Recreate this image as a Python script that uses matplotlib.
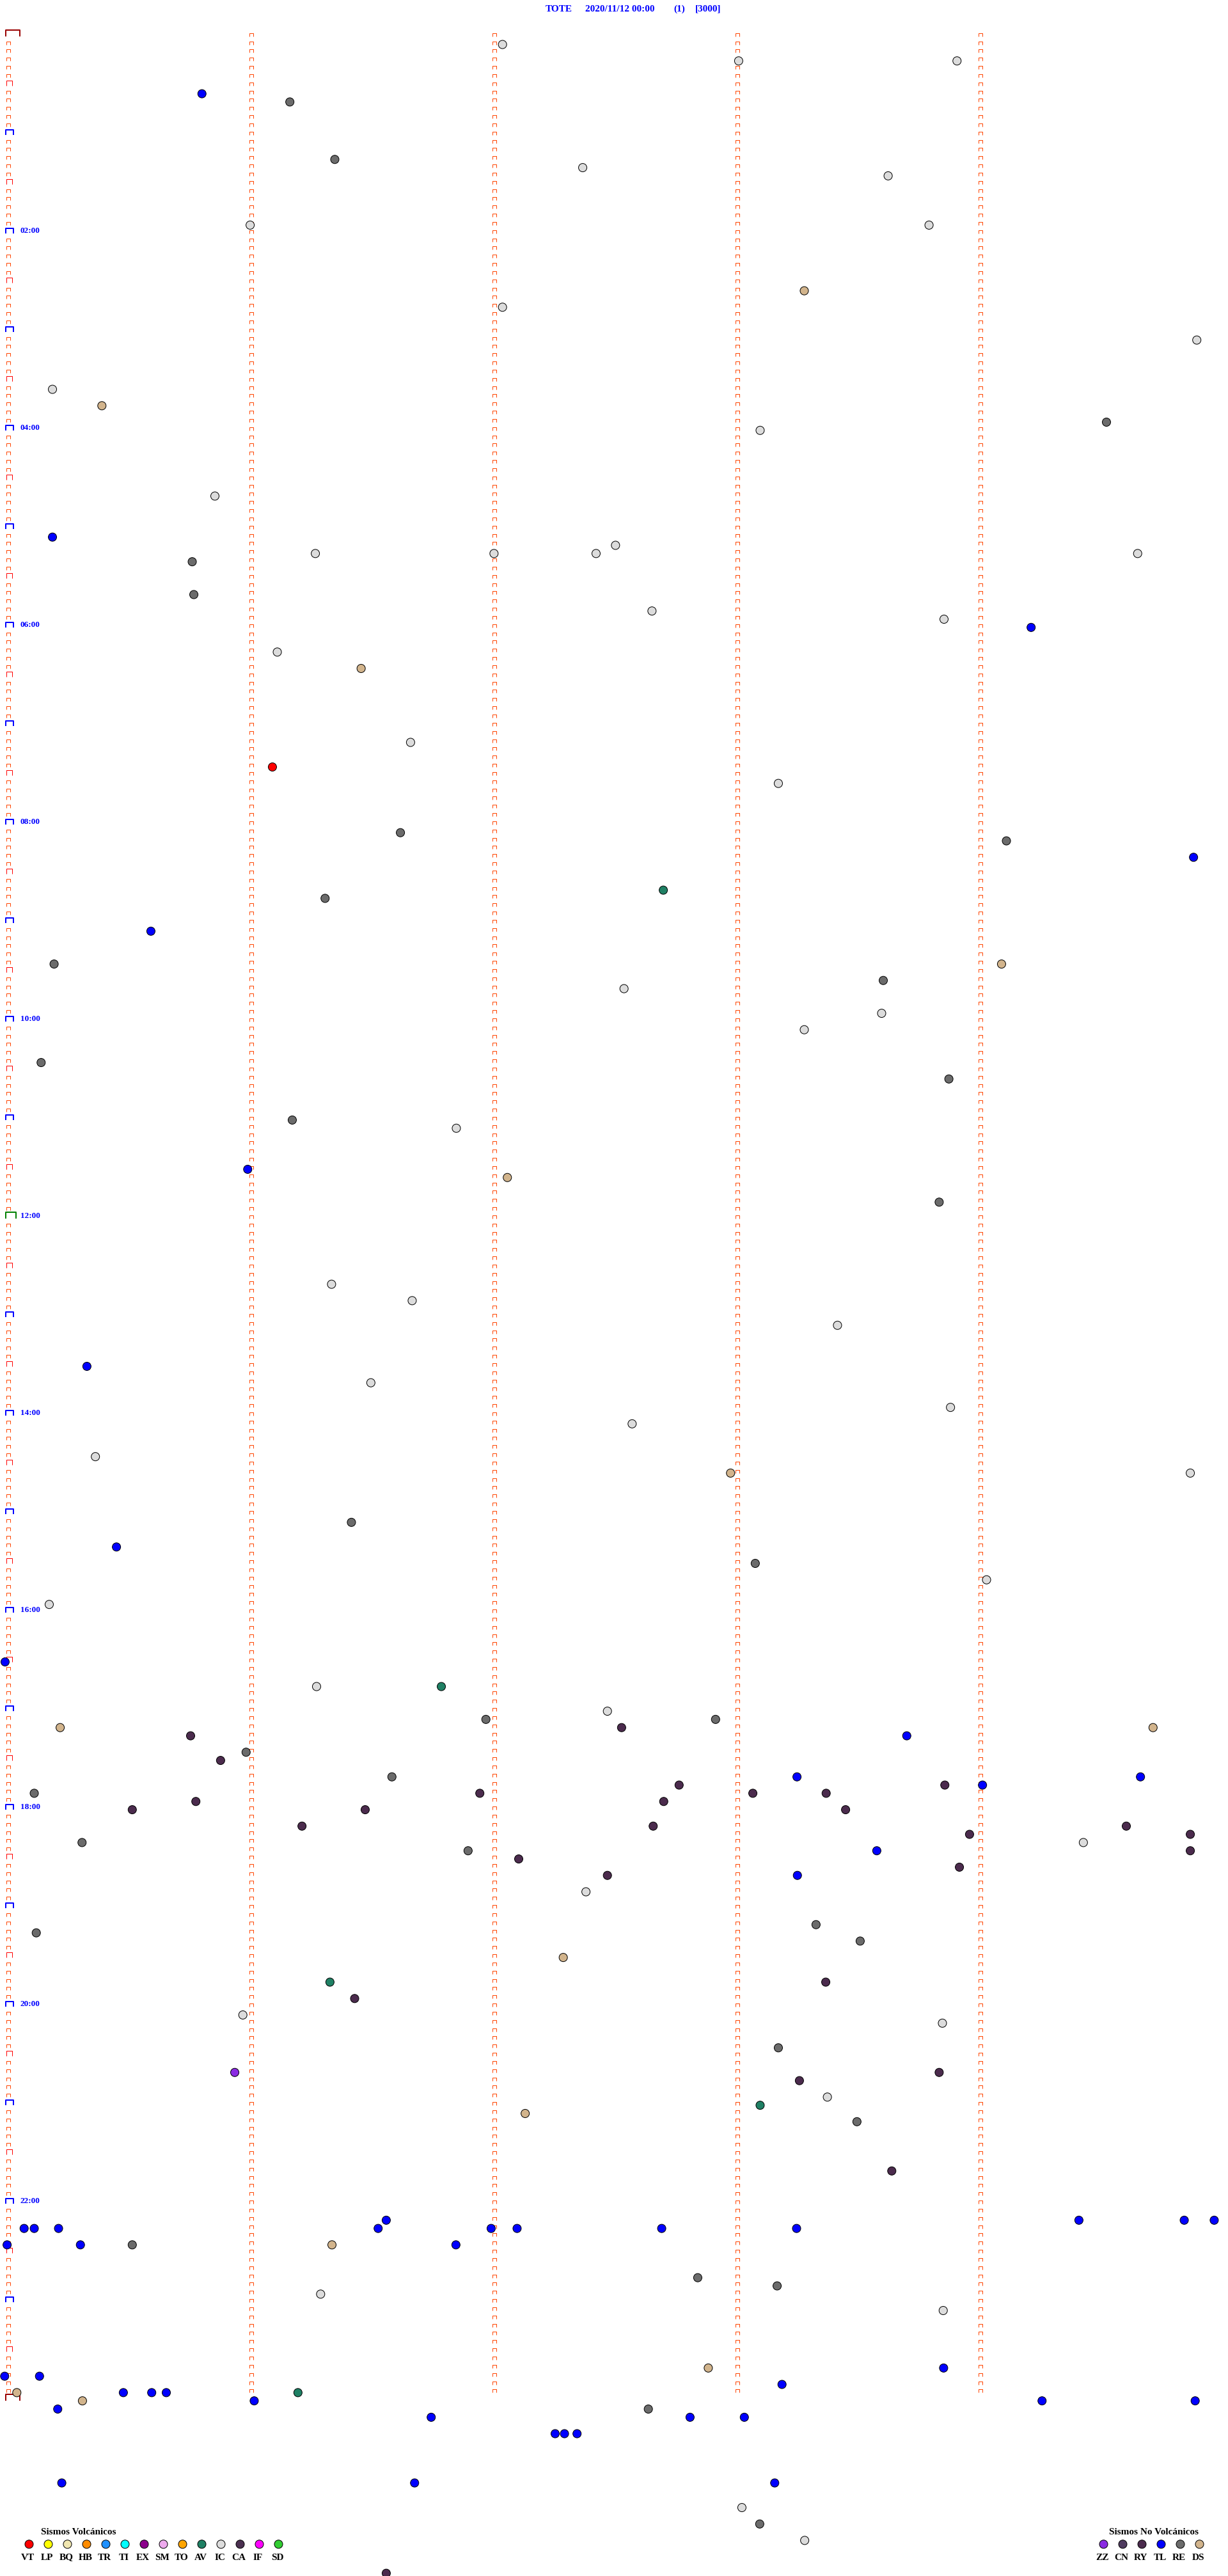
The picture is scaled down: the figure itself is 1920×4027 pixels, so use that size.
import numpy as np
import matplotlib
matplotlib.use('Agg')
import matplotlib.pyplot as plt
from matplotlib.path import Path
from matplotlib.markers import MarkerStyle

# ---------------- data ----------------
station = 'TOTE'
day_label = '2020/11/12 00:00'
page_label = '(1)'
scale_label = '[3000]'

hour_labels = ['02:00', '04:00', '06:00', '08:00', '10:00', '12:00',
               '14:00', '16:00', '18:00', '20:00', '22:00']

# events: line = 5-minute line since 00:00, sec = seconds into that line
ev_row = [1, 3, 3, 7, 8, 15, 16, 17, 23, 23, 31, 33, 37, 43, 45, 47, 48, 56, 61, 62,
          63, 63, 63, 63, 64, 68, 70, 71, 72, 75, 77, 86, 89, 91, 97, 98, 100, 104, 105, 109,
          113, 113, 115, 116, 119, 121, 125, 127, 132, 133, 138, 139, 142, 152, 154, 157, 162, 164, 167, 169,
          173, 175, 175, 181, 184, 186, 188, 191, 198,
          201, 201, 204, 205, 205, 206, 206, 206, 207, 207, 209, 210, 212, 212, 212, 213, 213, 213,
          214, 214, 214, 214, 215, 215, 216, 216, 216, 218, 218, 218, 219, 219, 220, 220,
          221, 221, 221, 222, 223, 224, 224, 226, 230, 231, 232, 234, 237, 237, 239, 241,
          242, 245, 248, 248, 249, 251, 252, 253, 254, 260,
          266, 266, 266, 266, 267, 267, 267, 267, 267, 267, 267, 267, 269, 269, 269, 269, 269,
          273, 274, 275, 277, 284, 284, 285, 285, 286, 287, 287, 287, 287, 287,
          288, 288, 288, 288, 289, 289, 290, 290, 290, 292, 292, 292, 298, 298, 298,
          301, 303, 305, 309]
ev_sec = [122.0, 180.3, 234.2, 47.8, 69.5, 80.6, 141.8, 217.2, 59.7, 227.3, 196.5, 122.0, 293.4, 10.9, 23.1, 271.1, 185.6, 51.0, 10.9, 149.9,
          119.9, 75.8, 145.1, 278.8, 45.4, 45.8, 158.9, 231.0, 252.5, 66.4, 87.1, 99.3, 65.2, 190.1, 96.8, 246.4, 292.6, 161.7, 78.2, 35.2,
          11.3, 245.2, 216.0, 152.0, 215.6, 196.5, 8.1, 232.2, 70.1, 110.6, 59.1, 123.2, 229.8, 79.8, 99.7, 204.7, 19.4, 89.5, 232.6, 154.0,
          21.5, 178.3, 291.8, 84.7, 26.7, 184.4, 241.5, 10.1, -0.8,
          76.1, 106.9, 147.9, 117.9, 174.6, 12.8, 151.4, 282.6, 45.0, 221.8, 58.7, 52.4, 94.7, 194.7, 279.5, 165.6, 231.2, 240.5,
          6.4, 116.4, 183.8, 201.9, 46.3, 161.8, 30.6, 88.1, 206.7, 72.5, 159.2, 276.0, 237.3, 291.8, 18.2, 265.4,
          113.5, 214.4, 291.8, 126.0, 234.8, 147.9, 194.8, 142.6, 199.4, 6.9, 210.3, 137.0, 79.4, 201.8, 85.5, 57.9,
          230.6, 190.1, 55.9, 229.8, 195.3, 202.2, 185.6, 127.6, 209.5, 218.1,
          93.3, 264.3, 290.3, 297.7, 3.9, 6.4, 12.4, 91.3, 119.2, 125.6, 161.3, 194.6, -0.3, 17.8, 30.6, 79.9, 110.5,
          170.2, 189.8, 77.1, 230.8, 172.8, 230.9, -0.9, 7.7, 191.0, 2.1, 28.4, 35.4, 39.0, 71.5,
          18.3, 60.7, 255.2, 293.0, 12.2, 158.0, 104.4, 168.3, 181.7, 135.0, 137.3, 140.4, 13.2, 100.3, 189.2,
          181.1, 185.5, 196.6, 93.3]
ev_type = ['IC', 'IC', 'IC', 'TL', 'RE', 'RE', 'IC', 'IC', 'IC', 'IC', 'DS', 'IC', 'IC', 'IC', 'DS', 'RE', 'IC', 'IC', 'TL', 'IC',
           'IC', 'IC', 'IC', 'IC', 'RE', 'RE', 'IC', 'IC', 'TL', 'IC', 'DS', 'IC', 'VT', 'IC', 'RE', 'RE', 'TL', 'AV', 'RE', 'TL',
           'RE', 'DS', 'RE', 'IC', 'IC', 'IC', 'RE', 'RE', 'RE', 'IC', 'TL', 'DS', 'RE', 'IC', 'IC', 'IC', 'TL', 'IC', 'IC', 'IC',
           'IC', 'DS', 'IC', 'RE', 'TL', 'RE', 'IC', 'IC', 'TL',
           'IC', 'AV', 'IC', 'RE', 'RE', 'DS', 'RY', 'DS', 'RY', 'TL', 'RE', 'RY', 'RE', 'TL', 'TL', 'RY', 'RY', 'TL',
           'RE', 'RY', 'RY', 'RY', 'RY', 'RY', 'RY', 'RY', 'RY', 'RY', 'RY', 'RY', 'RY', 'RY', 'RE', 'IC',
           'RE', 'TL', 'RY', 'RY', 'RY', 'RY', 'TL', 'IC', 'RE', 'RE', 'RE', 'DS', 'AV', 'RY', 'RY', 'IC',
           'IC', 'RE', 'ZZ', 'RY', 'RY', 'IC', 'AV', 'DS', 'RE', 'RY',
           'TL', 'TL', 'TL', 'TL', 'TL', 'TL', 'TL', 'TL', 'TL', 'TL', 'TL', 'TL', 'TL', 'TL', 'RE', 'DS', 'TL',
           'RE', 'RE', 'IC', 'IC', 'DS', 'TL', 'TL', 'TL', 'TL', 'DS', 'TL', 'TL', 'TL', 'AV',
           'DS', 'TL', 'TL', 'TL', 'TL', 'RE', 'TL', 'TL', 'TL', 'TL', 'TL', 'TL', 'TL', 'TL', 'TL',
           'IC', 'RE', 'IC', 'RY']

volc_types = ['VT', 'LP', 'BQ', 'HB', 'TR', 'TI', 'EX', 'SM', 'TO', 'AV', 'IC', 'CA', 'IF', 'SD']
volc_colors = ['#ff0000', '#ffff00', '#f0e6b0', '#ff8c00', '#1e90ff', '#00ffff', '#8b008b',
               '#eeaaee', '#ffa500', '#1f8064', '#dcdcdc', '#4b3050', '#ff00ff', '#32cd32']
novolc_types = ['ZZ', 'CN', 'RY', 'TL', 'RE', 'DS']
novolc_colors = ['#8a2be2', '#4f3b5f', '#4b2b4d', '#0000ff', '#6b6b6b', '#d2b48c']

# ---------------- layout ----------------
W, H, DPI = 1920, 4027, 100
X0 = 13.0              # pixel of second 0
PX_PER_SEC = 380 / 60  # one minute = 380 px
Y0 = 56.7              # pixel of line 0 baseline
ROW_PX = 12.835        # pixels per 5-minute line
N_ROWS = 288
PT = 72 / DPI          # points per pixel
SERIF = ['Liberation Serif', 'DejaVu Serif']

fig = plt.figure(figsize=(W / DPI, H / DPI), dpi=DPI)
fig.patch.set_facecolor('white')
ax = fig.add_axes([0, 0, 1, 1])
ax.set_xlim(-X0 / PX_PER_SEC, (W - X0) / PX_PER_SEC)
ax.set_ylim((H - Y0) / ROW_PX, -Y0 / ROW_PX)
ax.axis('off')


def bracket(x0, x1, h):
    # open "⊓" shape anchored at its baseline
    path = Path([(x0, 0), (x0, h), (x1, h), (x1, 0)],
                [Path.MOVETO, Path.LINETO, Path.LINETO, Path.LINETO])
    size = 2 * max(abs(x0), abs(x1), abs(h)) * PT
    return MarkerStyle(path), size


def draw_brackets(sec, rows, shape, color, lw):
    m, size = shape
    ax.plot(np.full(len(rows), sec), rows, ls='none', marker=m, ms=size,
            mec=color, mfc='none', mew=lw * PT, zorder=2)


small = bracket(-3, 3, 5)
rows_all = np.arange(N_ROWS + 1)

# minute columns
for minute in range(1, 5):
    draw_brackets(minute * 60, np.arange(N_ROWS), small, '#ff4500', 1)

# left column: plain lines, half hours, hours, midnight, noon
plain = [r for r in rows_all if r % 6 != 0]
half = [r for r in rows_all if r % 12 == 6]
hours = [r for r in rows_all if r % 12 == 0 and r not in (0, 144, 288)]
draw_brackets(0, plain, small, '#ff4500', 1)
draw_brackets(0, half, bracket(-3, 6, 8), '#ff0000', 1)
draw_brackets(0, hours, bracket(-4, 8, 8), '#0000ff', 2)
draw_brackets(0, [0, 288], bracket(-4, 18, 10), '#990000', 2)
draw_brackets(0, [144], bracket(-4, 12, 10), '#008000', 2)

for lbl in hour_labels:
    r = int(lbl[:2]) * 12
    ax.annotate(lbl, xy=(0, r), xytext=(19, 1), textcoords='offset pixels',
                ha='left', va='baseline', color='#0000ff', fontsize=9.5,
                fontweight='bold', family=SERIF)

# events
cmap = dict(zip(volc_types + novolc_types, volc_colors + novolc_colors))
ax.scatter(ev_sec, ev_row, s=(13 * PT) ** 2, c=[cmap[t] for t in ev_type],
           edgecolors='black', linewidths=PT, zorder=3, clip_on=True)

# ---------------- title and legends (pixel overlay) ----------------
pax = fig.add_axes([0, 0, 1, 1])
pax.patch.set_alpha(0)
pax.set_xlim(0, W)
pax.set_ylim(H, 0)
pax.axis('off')

for txt, x in zip([station, day_label, page_label, scale_label], [853, 915, 1053, 1087]):
    pax.text(x, 17.5, txt, ha='left', va='baseline', color='#0000ff',
             fontsize=11, fontweight='bold', family=SERIF)


def legend(types, colors, x_first, title, title_x):
    xs = x_first + 30 * np.arange(len(types))
    pax.text(title_x, 3962, title, ha='left', va='baseline', color='black',
             fontsize=11, fontweight='bold', family=SERIF)
    pax.scatter(xs, np.full(len(xs), 3977.3), s=(13 * PT) ** 2, c=colors,
                edgecolors='black', linewidths=PT)
    for x, t in zip(xs, types):
        pax.text(x - 2, 4001.5, t, ha='center', va='baseline', color='black',
                 fontsize=11, fontweight='bold', family=SERIF)


legend(volc_types, volc_colors, 45.5, 'Sismos Volcánicos', 63.5)
legend(novolc_types, novolc_colors, 1725.5, 'Sismos No Volcánicos', 1733.5)

fig.savefig('out.png', dpi=DPI, facecolor='white')
